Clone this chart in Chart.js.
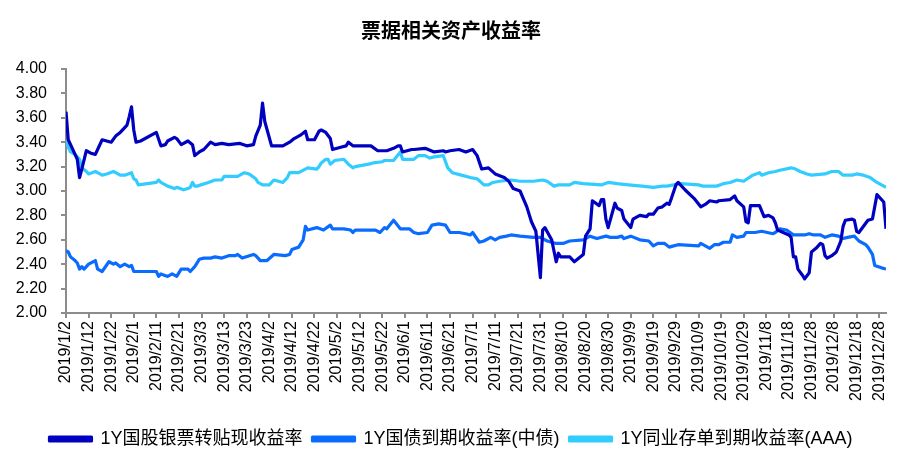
<!DOCTYPE html>
<html>
<head>
<meta charset="utf-8">
<script src="https://cdn.jsdelivr.net/npm/chart.js@4.4.1/dist/chart.umd.min.js"></script>
<style>
  html, body { margin: 0; padding: 0; background: #fff; }
  #wrap { width: 910px; height: 467px; position: relative; }
</style>
</head>
<body>
<div id="wrap"><canvas id="chart"></canvas></div>
<script>
// x values are day offsets from 2019/1/2
const tickLabels = [
  '2019/1/2', '2019/1/12', '2019/1/22', '2019/2/1', '2019/2/11', '2019/2/21', '2019/3/3',
  '2019/3/13', '2019/3/23', '2019/4/2', '2019/4/12', '2019/4/22', '2019/5/2', '2019/5/12',
  '2019/5/22', '2019/6/1', '2019/6/11', '2019/6/21', '2019/7/1', '2019/7/11', '2019/7/21',
  '2019/7/31', '2019/8/10', '2019/8/20', '2019/8/30', '2019/9/9', '2019/9/19', '2019/9/29',
  '2019/10/9', '2019/10/19', '2019/10/29', '2019/11/8', '2019/11/18', '2019/11/28',
  '2019/12/8', '2019/12/18', '2019/12/28'
];

const seriesNames = ['1Y国股银票转贴现收益率', '1Y国债到期收益率(中债)', '1Y同业存单到期收益率(AAA)'];

// 1Y 国股银票转贴现
const billDays = [0, 1, 3, 4, 5, 6, 7, 9, 11, 13, 16, 18, 20, 22, 24, 26, 27, 28, 29, 30, 31, 33, 40, 42, 44, 45, 48, 49, 51, 54, 56, 57, 59, 61, 64, 66, 69, 72, 77, 80, 83, 84, 86, 87, 88, 91, 96, 99, 101, 104, 106, 107, 110, 112, 113, 115, 117, 118, 122, 124, 125, 127, 135, 138, 142, 145, 147, 148, 149, 153, 154, 159, 163, 167, 168, 170, 174, 177, 180, 182, 184, 187, 190, 194, 196, 198, 201, 204, 206, 208, 210, 211, 212, 215, 217, 218, 219, 223, 225, 229, 230, 232, 233, 236, 237, 238, 239, 240, 243, 244, 246, 247, 250, 251, 254, 257, 258, 260, 262, 264, 266, 267, 268, 270, 271, 274, 278, 281, 283, 285, 288, 289, 294, 296, 297, 300, 301, 302, 303, 307, 309, 311, 313, 314, 315, 320, 321, 322, 323, 324, 326, 327, 329, 330, 332, 334, 335, 336, 337, 339, 341, 343, 344, 345, 348, 349, 350, 351, 355, 357, 359, 362, 363];
const billRates = [3.65, 3.42, 3.34, 3.30, 3.26, 3.11, 3.18, 3.33, 3.31, 3.30, 3.42, 3.41, 3.40, 3.45, 3.48, 3.52, 3.54, 3.61, 3.69, 3.50, 3.40, 3.41, 3.48, 3.37, 3.38, 3.41, 3.44, 3.43, 3.38, 3.41, 3.38, 3.29, 3.32, 3.34, 3.40, 3.38, 3.39, 3.38, 3.39, 3.37, 3.38, 3.45, 3.54, 3.72, 3.57, 3.37, 3.37, 3.40, 3.43, 3.46, 3.49, 3.42, 3.42, 3.49, 3.50, 3.48, 3.43, 3.34, 3.36, 3.37, 3.40, 3.37, 3.37, 3.33, 3.33, 3.35, 3.37, 3.37, 3.32, 3.34, 3.34, 3.35, 3.32, 3.33, 3.32, 3.33, 3.34, 3.32, 3.34, 3.29, 3.18, 3.19, 3.14, 3.11, 3.08, 3.02, 3.00, 2.87, 2.75, 2.67, 2.29, 2.68, 2.70, 2.60, 2.42, 2.49, 2.46, 2.46, 2.42, 2.48, 2.63, 2.69, 2.92, 2.88, 2.93, 2.93, 2.77, 2.70, 2.90, 2.86, 2.84, 2.77, 2.70, 2.77, 2.80, 2.79, 2.81, 2.81, 2.86, 2.87, 2.90, 2.89, 2.94, 3.05, 3.07, 3.01, 2.94, 2.87, 2.89, 2.92, 2.91, 2.92, 2.93, 2.96, 2.92, 2.87, 2.75, 2.74, 2.88, 2.88, 2.79, 2.80, 2.78, 2.74, 2.68, 2.64, 2.62, 2.46, 2.46, 2.36, 2.31, 2.28, 2.33, 2.50, 2.53, 2.57, 2.56, 2.47, 2.45, 2.47, 2.50, 2.59, 2.71, 2.76, 2.77, 2.76, 2.67, 2.66, 2.76, 2.77, 2.97, 2.91, 2.69];

// 1Y 国债到期收益率(中债)
const bondDays = [0, 1, 2, 4, 5, 6, 7, 8, 10, 13, 14, 16, 19, 21, 22, 24, 26, 28, 29, 30, 40, 41, 42, 45, 47, 49, 51, 54, 55, 57, 59, 61, 64, 66, 69, 72, 75, 76, 78, 83, 84, 86, 89, 92, 97, 99, 100, 103, 105, 106, 107, 111, 114, 117, 118, 123, 126, 127, 128, 137, 139, 141, 142, 145, 148, 152, 154, 156, 160, 162, 165, 168, 170, 174, 177, 179, 180, 183, 185, 188, 190, 192, 195, 197, 201, 207, 210, 213, 217, 220, 223, 229, 232, 235, 239, 241, 244, 246, 247, 250, 254, 258, 260, 262, 265, 267, 269, 271, 280, 281, 283, 285, 287, 289, 291, 294, 295, 297, 300, 301, 305, 308, 313, 314, 316, 319, 322, 327, 329, 331, 334, 336, 339, 342, 344, 346, 349, 351, 354, 355, 357, 358, 361, 363];
const bondRates = [2.51, 2.50, 2.46, 2.43, 2.41, 2.36, 2.38, 2.36, 2.40, 2.43, 2.36, 2.34, 2.42, 2.40, 2.41, 2.38, 2.40, 2.38, 2.39, 2.34, 2.34, 2.30, 2.32, 2.30, 2.32, 2.30, 2.36, 2.36, 2.34, 2.38, 2.44, 2.45, 2.45, 2.46, 2.45, 2.47, 2.47, 2.48, 2.45, 2.48, 2.47, 2.43, 2.43, 2.48, 2.47, 2.48, 2.52, 2.54, 2.60, 2.71, 2.68, 2.70, 2.68, 2.72, 2.69, 2.69, 2.68, 2.66, 2.68, 2.68, 2.66, 2.70, 2.69, 2.76, 2.69, 2.69, 2.66, 2.65, 2.66, 2.72, 2.73, 2.72, 2.66, 2.66, 2.65, 2.64, 2.66, 2.58, 2.59, 2.62, 2.60, 2.62, 2.63, 2.64, 2.63, 2.62, 2.62, 2.59, 2.57, 2.57, 2.59, 2.60, 2.63, 2.61, 2.63, 2.62, 2.62, 2.63, 2.61, 2.63, 2.60, 2.59, 2.55, 2.57, 2.57, 2.54, 2.55, 2.56, 2.55, 2.57, 2.55, 2.53, 2.56, 2.56, 2.58, 2.58, 2.64, 2.62, 2.63, 2.66, 2.66, 2.67, 2.65, 2.66, 2.69, 2.68, 2.64, 2.64, 2.65, 2.64, 2.64, 2.62, 2.64, 2.63, 2.61, 2.62, 2.63, 2.59, 2.56, 2.54, 2.48, 2.39, 2.37, 2.36];

// 1Y 同业存单到期收益率(AAA)
const ncdDays = [0, 1, 2, 4, 5, 6, 7, 9, 10, 13, 15, 16, 18, 21, 22, 24, 26, 29, 30, 31, 32, 40, 41, 42, 45, 48, 49, 52, 54, 55, 56, 57, 58, 63, 66, 69, 70, 76, 79, 81, 84, 85, 87, 90, 92, 96, 98, 99, 103, 107, 111, 112, 113, 115, 116, 117, 119, 123, 125, 127, 128, 131, 134, 136, 140, 141, 145, 148, 149, 154, 156, 159, 161, 163, 167, 168, 169, 171, 175, 179, 182, 185, 187, 189, 192, 197, 201, 207, 211, 213, 216, 218, 223, 225, 229, 237, 240, 244, 249, 255, 260, 264, 266, 269, 272, 280, 282, 288, 291, 294, 297, 300, 304, 307, 308, 311, 314, 316, 321, 323, 325, 328, 330, 336, 339, 342, 344, 348, 350, 353, 356, 359, 363];
const ncdRates = [3.42, 3.36, 3.32, 3.30, 3.28, 3.26, 3.19, 3.16, 3.14, 3.16, 3.14, 3.13, 3.14, 3.16, 3.15, 3.13, 3.13, 3.15, 3.10, 3.09, 3.05, 3.07, 3.09, 3.07, 3.04, 3.02, 3.03, 3.01, 3.02, 3.03, 3.07, 3.04, 3.04, 3.07, 3.09, 3.09, 3.12, 3.12, 3.15, 3.14, 3.10, 3.07, 3.05, 3.05, 3.09, 3.07, 3.11, 3.15, 3.15, 3.19, 3.18, 3.20, 3.23, 3.26, 3.26, 3.22, 3.25, 3.26, 3.22, 3.19, 3.20, 3.21, 3.22, 3.23, 3.24, 3.25, 3.25, 3.32, 3.26, 3.26, 3.29, 3.29, 3.27, 3.28, 3.29, 3.24, 3.19, 3.15, 3.13, 3.11, 3.10, 3.05, 3.05, 3.07, 3.08, 3.09, 3.08, 3.08, 3.09, 3.08, 3.04, 3.05, 3.05, 3.07, 3.06, 3.05, 3.07, 3.06, 3.05, 3.04, 3.03, 3.04, 3.04, 3.05, 3.06, 3.05, 3.04, 3.04, 3.06, 3.07, 3.09, 3.08, 3.13, 3.15, 3.13, 3.15, 3.16, 3.17, 3.19, 3.18, 3.16, 3.14, 3.13, 3.14, 3.16, 3.16, 3.13, 3.13, 3.14, 3.13, 3.11, 3.07, 3.03];

const yTicks = [2.0, 4.0, 0.2]; // min, max, step

function toPoints(days, rates) {
  return days.map((d, i) => ({ x: d, y: rates[i] }));
}

const axisGrey = '#8c8c8c';
const latin = '"Liberation Sans", Arial, "Noto Sans CJK SC", sans-serif';

const ctx = document.getElementById('chart').getContext('2d');
new Chart(ctx, {
  type: 'line',
  data: {
    datasets: [
      { label: seriesNames[0], data: toPoints(billDays, billRates), borderColor: '#0000c0', backgroundColor: '#0000c0' },
      { label: seriesNames[1], data: toPoints(bondDays, bondRates), borderColor: '#0a6cff', backgroundColor: '#0a6cff' },
      { label: seriesNames[2], data: toPoints(ncdDays, ncdRates), borderColor: '#33ccff', backgroundColor: '#33ccff' }
    ].map(ds => Object.assign(ds, { borderWidth: 3.2, pointRadius: 0, tension: 0, borderJoinStyle: 'round', fill: false }))
  },
  options: {
    responsive: true,
    maintainAspectRatio: false,
    animation: false,
    layout: { padding: { left: 16, right: 24, top: 0, bottom: 9 } },
    plugins: {
      title: {
        display: true,
        text: '票据相关资产收益率',
        color: '#000',
        font: { family: '"Noto Sans CJK SC", sans-serif', size: 20, weight: 'bold' },
        padding: { top: 18, bottom: 27 }
      },
      legend: {
        position: 'bottom',
        labels: {
          color: '#000',
          boxWidth: 42,
          boxHeight: 4,
          padding: 10,
          font: { family: latin, size: 18 }
        }
      },
      tooltip: { enabled: false }
    },
    scales: {
      x: {
        type: 'linear',
        min: 0,
        max: 363,
        afterFit: (scale) => { scale.height = 107; },
        grid: { display: true, drawOnChartArea: false, drawTicks: true, tickLength: 5, color: axisGrey, lineWidth: 2 },
        border: { display: true, color: axisGrey, width: 2 },
        ticks: {
          stepSize: 10,
          maxTicksLimit: 40,
          includeBounds: false,
          autoSkip: false,
          minRotation: 90,
          maxRotation: 90,
          padding: 3,
          color: '#000',
          font: { family: latin, size: 16 },
          callback: (v) => tickLabels[Math.round(v / 10)] ?? ''
        }
      },
      y: {
        min: yTicks[0],
        max: yTicks[1],
        afterFit: (scale) => { scale.width = 50; },
        grid: { display: true, drawOnChartArea: false, drawTicks: true, tickLength: 5, color: axisGrey, lineWidth: 2 },
        border: { display: true, color: axisGrey, width: 2 },
        ticks: {
          stepSize: yTicks[2],
          padding: 14,
          color: '#000',
          font: { family: latin, size: 16 },
          callback: (v) => Number(v).toFixed(2)
        }
      }
    }
  }
});
</script>
</body>
</html>
